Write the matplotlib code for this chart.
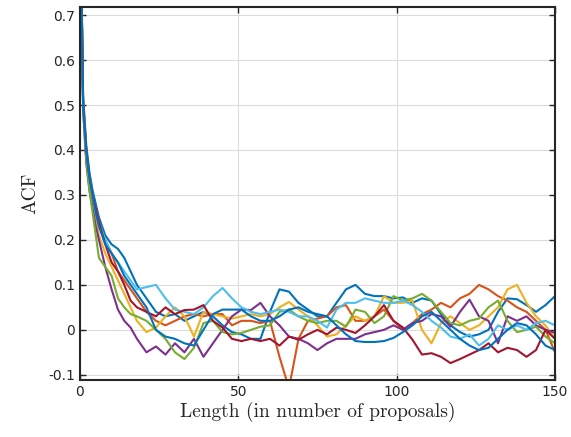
import matplotlib.pyplot as plt

lags = [0, 1, 2, 3, 4, 5, 6, 8, 10, 12, 14, 16, 18, 21] + list(range(24, 151, 3))

# one ACF curve per chain, MATLAB default colour order
blue_a = [1.0, 0.52, 0.41, 0.35, 0.31, 0.28, 0.25, 0.21, 0.19, 0.18, 0.16, 0.13, 0.1, 0.07,
          0.04, 0.03, 0.035, 0.02, 0.03, 0.04, 0.03, 0.01, -0.005, -0.01, -0.02, -0.02, 0.04,
          0.09, 0.085, 0.06, 0.045, 0.03, 0.03, 0.06, 0.09, 0.1, 0.08, 0.075, 0.075, 0.07,
          0.072, 0.06, 0.07, 0.065, 0.035, 0.01, -0.005, -0.015, -0.01, 0.0, 0.04, 0.07,
          0.068, 0.055, 0.04, 0.055, 0.075]
orange = [1.0, 0.5, 0.4, 0.34, 0.3, 0.26, 0.23, 0.2, 0.17, 0.13, 0.11, 0.09, 0.07, 0.04,
          0.02, 0.01, 0.02, 0.03, 0.035, 0.03, 0.035, 0.035, 0.01, 0.02, 0.02, 0.015, 0.02,
          -0.06, -0.13, -0.02, 0.02, 0.025, 0.03, 0.05, 0.055, 0.02, 0.02, 0.03, 0.045, 0.02,
          0.0, 0.015, 0.035, 0.045, 0.06, 0.05, 0.07, 0.08, 0.1, 0.09, 0.075, 0.065,
          0.05, 0.04, 0.02, 0.0, -0.05]
yellow = [1.0, 0.5, 0.39, 0.33, 0.29, 0.25, 0.21, 0.17, 0.14, 0.11, 0.08, 0.05, 0.02, -0.005,
          0.005, 0.03, 0.05, 0.03, -0.015, 0.04, 0.035, 0.03, 0.025, 0.03, 0.035, 0.03, 0.035,
          0.05, 0.062, 0.045, 0.03, 0.01, -0.015, -0.01, 0.01, 0.03, 0.02, 0.03, 0.075, 0.06,
          0.06, 0.065, 0.0, -0.03, 0.015, 0.03, 0.015, 0.0, 0.01, 0.03, 0.05, 0.09,
          0.1, 0.06, 0.03, 0.01, -0.02]
purple = [1.0, 0.49, 0.37, 0.31, 0.27, 0.23, 0.2, 0.14, 0.09, 0.045, 0.02, 0.005, -0.02, -0.05,
          -0.037, -0.055, -0.03, -0.05, -0.02, -0.06, -0.03, 0.0, 0.03, 0.045, 0.044, 0.06, 0.03,
          0.01, -0.015, -0.02, -0.03, -0.045, -0.03, -0.02, -0.02, -0.02, -0.01, -0.005, 0.0, 0.01,
          0.0, 0.015, 0.02, 0.035, 0.03, 0.007, 0.04, 0.067, 0.03, 0.02, -0.03, 0.03,
          0.02, 0.03, 0.01, 0.0, -0.007]
green = [1.0, 0.49, 0.38, 0.31, 0.26, 0.21, 0.16, 0.14, 0.12, 0.07, 0.05, 0.035, 0.03, 0.02,
         0.0, -0.02, -0.05, -0.065, -0.04, 0.015, 0.02, -0.005, -0.01, -0.007, 0.0, 0.007, 0.01,
         0.04, 0.045, 0.03, 0.02, 0.015, 0.02, 0.02, 0.007, 0.045, 0.04, 0.015, 0.03, 0.075,
         0.065, 0.07, 0.08, 0.065, 0.04, 0.015, 0.01, 0.02, 0.025, 0.05, 0.065, 0.02,
         -0.005, 0.0, 0.007, -0.015, -0.03]
light_blue = [1.0, 0.51, 0.4, 0.34, 0.3, 0.27, 0.24, 0.2, 0.17, 0.15, 0.13, 0.11, 0.09, 0.095,
              0.1, 0.07, 0.045, 0.04, 0.035, 0.05, 0.075, 0.093, 0.07, 0.05, 0.04, 0.035, 0.04,
              0.045, 0.04, 0.03, 0.03, 0.02, 0.005, 0.045, 0.06, 0.06, 0.07, 0.065, 0.06, 0.06,
              0.065, 0.055, 0.04, 0.02, 0.005, -0.015, -0.02, -0.01, -0.035, -0.02, 0.01, 0.0,
              0.01, 0.0, 0.015, 0.02, 0.01]
dark_red = [1.0, 0.51, 0.4, 0.34, 0.3, 0.27, 0.24, 0.19, 0.15, 0.13, 0.1, 0.065, 0.05, 0.04,
            0.03, 0.05, 0.035, 0.044, 0.045, 0.055, 0.02, 0.005, -0.02, -0.025, -0.02, -0.025, -0.02,
            -0.035, -0.015, -0.022, -0.01, 0.0, -0.01, 0.005, 0.0, -0.007, 0.01, 0.03, 0.055, 0.02,
            0.005, -0.022, -0.055, -0.052, -0.06, -0.074, -0.065, -0.055, -0.045, -0.03, -0.05, -0.04,
            -0.045, -0.06, -0.045, 0.0, -0.02]
blue_b = [1.0, 0.5, 0.4, 0.34, 0.3, 0.26, 0.23, 0.19, 0.17, 0.15, 0.12, 0.1, 0.08, 0.05,
          0.0, -0.015, -0.02, -0.03, -0.035, 0.0, 0.035, 0.045, 0.045, 0.045, 0.03, 0.02, 0.02,
          0.03, 0.045, 0.05, 0.04, 0.035, 0.03, 0.01, -0.01, -0.025, -0.027, -0.027, -0.025, -0.018,
          -0.005, 0.01, 0.03, 0.04, 0.02, 0.0, -0.02, -0.035, -0.045, -0.04, -0.02, 0.0,
          0.015, 0.01, -0.01, -0.035, -0.045]

series = [blue_a, orange, yellow, purple, green, light_blue, dark_red, blue_b]
colors = ['#0072BD', '#D95319', '#EDB120', '#7E2F8E', '#77AC30', '#4DBEEE', '#A2142F', '#0072BD']

xticks = [0, 50, 100, 150]
yticks = [-0.1, 0, 0.1, 0.2, 0.3, 0.4, 0.5, 0.6, 0.7]
ytick_labels = ['-0.1', '0', '0.1', '0.2', '0.3', '0.4', '0.5', '0.6', '0.7']

fig = plt.figure(figsize=(5.71, 4.37), dpi=100)
ax = fig.add_axes([0.14, 0.13, 0.832, 0.854])

for vals, c in zip(series, colors):
    ax.plot(lags, vals, color=c, lw=1.5)

ax.set_xlim(0, 150)
ax.set_ylim(-0.112, 0.718)
ax.set_xticks(xticks)
ax.set_xticklabels([str(t) for t in xticks])
ax.set_yticks(yticks)
ax.set_yticklabels(ytick_labels)
ax.grid(True, color='#dcdcdc', lw=0.8)
ax.set_axisbelow(True)
ax.tick_params(direction='in', length=4, width=1, labelsize=10, labelcolor='#262626',
               top=True, right=True, color='#262626')
for s in ax.spines.values():
    s.set_linewidth(1.5)
    s.set_color('#262626')

ax.set_xlabel('Length (in number of proposals)', fontfamily='cmr10', fontsize=14, color='#262626', labelpad=2)
ax.set_ylabel('ACF', fontfamily='cmr10', fontsize=14, color='#262626', labelpad=6)

fig.savefig('out.png', dpi=100)
